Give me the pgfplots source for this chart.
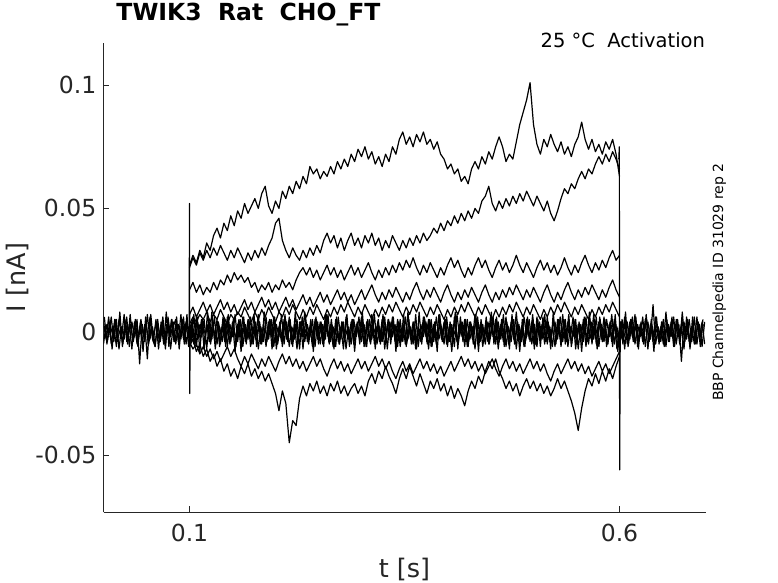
\documentclass[border=0pt]{standalone}
\usepackage{fontspec}
\setmainfont{DejaVu Sans}
\usepackage{pgfplots}
\pgfplotsset{compat=1.18}
\newcommand\tickfont{\fontsize{23.5bp}{28bp}\selectfont}
\newcommand\labfont{\fontsize{25.5bp}{30bp}\selectfont}
\newcommand\titfont{\fontsize{23.5bp}{28bp}\selectfont\bfseries}
\newcommand\notefont{\fontsize{19.5bp}{23bp}\selectfont}
\newcommand\sidefont{\fontsize{14bp}{17bp}\selectfont}
\begin{document}
\begin{tikzpicture}
\path[use as bounding box] (0,0) rectangle (778bp,583bp);
\begin{axis}[
  at={(103.5bp,70.7bp)}, anchor=south west,
  width=602bp, height=469.6bp, scale only axis,
  xmin=0, xmax=0.7, ymin=-0.0732, ymax=0.1172,
  axis lines=left,
  axis line style={-, black!85, line width=0.6bp},
  tick align=inside,
  major tick length=6bp,
  tick style={black!85, line width=0.6bp},
  xtick={0.1,0.6}, xticklabels={0.1,0.6},
  ytick={-0.05,0,0.05,0.1},
  yticklabels={{-0.05},{0\hspace{1.272em}},{0.05\hspace{0.318em}},{0.1\hspace{0.636em}}},
  xticklabel style={font=\tickfont, text=black!85, anchor=north, inner sep=0pt, yshift=-11.7bp},
  yticklabel style={font=\tickfont, text=black!85, anchor=east, inner sep=0pt, xshift=-7bp},
  xlabel={t [s]}, ylabel={I [nA]},
  xlabel style={font=\labfont, text=black!85, at={(axis description cs:0.5,-0.13778)}, anchor=base, inner sep=0pt},
  ylabel style={font=\labfont, text=black!85, at={(axis description cs:-0.12874,0.5)}, anchor=base, inner sep=0pt},
  title={TWIK3\ \ Rat\ \ CHO\_FT},
  title style={font=\titfont, text=black, at={(axis description cs:0.02126,1.03556)}, anchor=base west, inner sep=0pt},
  tr/.style={black, solid, line width=1.2bp, mark=none, line join=round},
  /pgf/number format/assume math mode=true,
]
% baseline noise sweeps (0 to 0.7 s)
\addplot[tr] table[x expr=0.003*\coordindex, y index=0, header=false, row sep=\\] {
0.004\\ -0.003\\ 0.006\\ -0.005\\ 0.002\\ -0.006\\ 0.005\\ -0.002\\ 0.007\\ -0.004\\
0.003\\ -0.007\\ 0.004\\ -0.005\\ 0.002\\ -0.004\\ 0.003\\ -0.011\\ 0.006\\ -0.003\\
-0.006\\ 0.003\\ -0.002\\ 0.006\\ -0.005\\ 0.004\\ -0.007\\ 0.002\\ 0.005\\ -0.004\\
0.007\\ -0.003\\ 0.004\\ -0.006\\ 0.002\\ -0.005\\ 0.006\\ -0.002\\ 0.005\\ -0.007\\
0.003\\ -0.004\\ 0.008\\ -0.003\\ 0.005\\ -0.006\\ 0.002\\ -0.004\\ 0.006\\ -0.005\\
0.004\\ -0.008\\ 0.003\\ -0.002\\ 0.006\\ -0.004\\ 0.005\\ -0.006\\ 0.002\\ -0.003\\
0.007\\ -0.005\\ 0.003\\ -0.006\\ 0.004\\ -0.002\\ 0.006\\ -0.007\\ 0.002\\ -0.004\\
0.005\\ -0.003\\ 0.006\\ -0.005\\ 0.003\\ -0.007\\ 0.004\\ -0.002\\ 0.008\\ -0.004\\
0.002\\ -0.006\\ 0.005\\ -0.003\\ 0.004\\ -0.005\\ 0.007\\ -0.002\\ 0.003\\ -0.006\\
0.005\\ -0.004\\ 0.002\\ -0.007\\ 0.006\\ -0.003\\ 0.004\\ -0.005\\ 0.003\\ -0.002\\
0.006\\ -0.006\\ 0.004\\ -0.003\\ 0.007\\ -0.005\\ 0.002\\ -0.004\\ 0.005\\ -0.007\\
0.003\\ -0.002\\ 0.006\\ -0.004\\ 0.005\\ -0.006\\ 0.003\\ -0.005\\ 0.008\\ -0.003\\
0.004\\ -0.007\\ 0.002\\ -0.004\\ 0.006\\ -0.002\\ 0.005\\ -0.006\\ 0.003\\ -0.005\\
0.007\\ -0.003\\ 0.004\\ -0.005\\ 0.002\\ -0.008\\ 0.006\\ -0.004\\ 0.003\\ -0.002\\
0.005\\ -0.006\\ 0.004\\ -0.003\\ 0.007\\ -0.005\\ 0.003\\ -0.006\\ 0.002\\ -0.004\\
0.006\\ -0.002\\ 0.005\\ -0.007\\ 0.003\\ -0.004\\ 0.006\\ -0.005\\ 0.004\\ -0.003\\
0.008\\ -0.004\\ 0.002\\ -0.006\\ 0.005\\ -0.003\\ 0.004\\ -0.007\\ 0.006\\ -0.002\\
0.003\\ -0.005\\ 0.006\\ -0.004\\ 0.002\\ -0.006\\ 0.005\\ -0.003\\ 0.007\\ -0.005\\
0.004\\ -0.002\\ 0.006\\ -0.007\\ 0.003\\ -0.004\\ 0.005\\ -0.006\\ 0.002\\ -0.003\\
0.007\\ -0.005\\ 0.004\\ -0.003\\ 0.006\\ -0.006\\ 0.003\\ -0.004\\ 0.005\\ -0.007\\
0.002\\ -0.003\\ 0.006\\ -0.005\\ 0.004\\ -0.002\\ 0.007\\ -0.006\\ 0.003\\ -0.004\\
0.005\\ -0.007\\ 0.003\\ -0.004\\ 0.006\\ -0.003\\ 0.002\\ -0.005\\ 0.008\\ -0.004\\
0.004\\ -0.006\\ 0.005\\ -0.002\\ 0.003\\ -0.007\\ 0.006\\ -0.004\\ 0.002\\ -0.005\\
0.006\\ -0.003\\ 0.004\\ -0.005\\
};
\addplot[tr] table[x expr=0.003*\coordindex, y index=0, header=false, row sep=\\] {
-0.005\\ 0.003\\ -0.002\\ 0.006\\ -0.004\\ 0.005\\ -0.007\\ 0.002\\ -0.003\\ 0.006\\
-0.006\\ 0.004\\ -0.002\\ 0.005\\ -0.013\\ 0.003\\ -0.004\\ 0.007\\ -0.003\\ 0.002\\
-0.006\\ 0.005\\ -0.004\\ 0.003\\ -0.007\\ 0.006\\ -0.002\\ 0.004\\ -0.005\\ 0.003\\
-0.003\\ 0.006\\ -0.005\\ 0.002\\ -0.004\\ 0.007\\ -0.006\\ 0.003\\ -0.002\\ 0.005\\
-0.007\\ 0.004\\ -0.003\\ 0.006\\ -0.005\\ 0.002\\ -0.004\\ 0.005\\ -0.006\\ 0.003\\
-0.002\\ 0.007\\ -0.004\\ 0.005\\ -0.006\\ 0.003\\ -0.003\\ 0.006\\ -0.005\\ 0.004\\
-0.007\\ 0.002\\ -0.004\\ 0.006\\ -0.003\\ 0.005\\ -0.006\\ 0.003\\ -0.002\\ 0.007\\
-0.005\\ 0.004\\ -0.006\\ 0.002\\ -0.003\\ 0.005\\ -0.007\\ 0.006\\ -0.004\\ 0.003\\
-0.002\\ 0.005\\ -0.006\\ 0.004\\ -0.005\\ 0.003\\ -0.003\\ 0.007\\ -0.004\\ 0.002\\
-0.006\\ 0.006\\ -0.003\\ 0.004\\ -0.007\\ 0.002\\ -0.005\\ 0.005\\ -0.002\\ 0.006\\
-0.004\\ 0.003\\ -0.006\\ 0.005\\ -0.003\\ 0.007\\ -0.005\\ 0.002\\ -0.004\\ 0.006\\
-0.007\\ 0.004\\ -0.002\\ 0.003\\ -0.006\\ 0.005\\ -0.004\\ 0.006\\ -0.003\\ 0.002\\
-0.005\\ 0.007\\ -0.006\\ 0.003\\ -0.002\\ 0.004\\ -0.007\\ 0.005\\ -0.004\\ 0.006\\
-0.003\\ 0.002\\ -0.005\\ 0.006\\ -0.004\\ 0.003\\ -0.006\\ 0.007\\ -0.002\\ 0.004\\
-0.006\\ 0.005\\ -0.003\\ 0.002\\ -0.007\\ 0.006\\ -0.004\\ 0.003\\ -0.005\\ 0.004\\
-0.002\\ 0.006\\ -0.005\\ 0.004\\ -0.003\\ 0.007\\ -0.006\\ 0.002\\ -0.004\\ 0.005\\
-0.007\\ 0.003\\ -0.004\\ 0.006\\ -0.002\\ 0.005\\ -0.005\\ 0.003\\ -0.006\\ 0.004\\
-0.003\\ 0.007\\ -0.005\\ 0.002\\ -0.006\\ 0.004\\ -0.003\\ 0.006\\ -0.004\\ 0.005\\
-0.006\\ 0.002\\ -0.002\\ 0.005\\ -0.007\\ 0.003\\ -0.004\\ 0.006\\ -0.005\\ 0.004\\
-0.003\\ 0.006\\ -0.006\\ 0.003\\ -0.004\\ 0.005\\ -0.002\\ 0.007\\ -0.005\\ 0.002\\
-0.004\\ 0.005\\ -0.007\\ 0.004\\ -0.003\\ 0.006\\ -0.005\\ 0.003\\ -0.002\\ 0.006\\
-0.006\\ 0.004\\ -0.003\\ 0.011\\ -0.005\\ 0.002\\ -0.004\\ 0.005\\ -0.006\\ 0.003\\
-0.002\\ 0.006\\ -0.005\\ 0.003\\ -0.012\\ 0.004\\ -0.003\\ 0.005\\ -0.004\\ 0.006\\
-0.005\\ 0.003\\ -0.006\\ 0.004\\
};
\addplot[tr] table[x expr=0.0015+0.003*\coordindex, y index=0, header=false, row sep=\\] {
0.002\\ -0.004\\ 0.003\\ -0.001\\ 0.005\\ -0.003\\ 0.001\\ -0.005\\ 0.004\\ -0.002\\
0.003\\ -0.004\\ 0.001\\ -0.003\\ 0.005\\ -0.002\\ 0.004\\ -0.005\\ 0.002\\ -0.001\\
0.004\\ -0.003\\ 0.002\\ -0.005\\ 0.003\\ -0.001\\ 0.005\\ -0.004\\ 0.001\\ -0.003\\
0.005\\ -0.002\\ 0.003\\ -0.004\\ 0.001\\ -0.005\\ 0.004\\ -0.003\\ 0.002\\ -0.001\\
0.003\\ -0.005\\ 0.002\\ -0.003\\ 0.004\\ -0.001\\ 0.005\\ -0.004\\ 0.003\\ -0.002\\
0.001\\ -0.003\\ 0.005\\ -0.004\\ 0.002\\ -0.002\\ 0.004\\ -0.005\\ 0.003\\ -0.001\\
0.004\\ -0.004\\ 0.001\\ -0.002\\ 0.005\\ -0.003\\ 0.003\\ -0.005\\ 0.002\\ -0.004\\
0.005\\ -0.001\\ 0.002\\ -0.004\\ 0.003\\ -0.003\\ 0.004\\ -0.002\\ 0.001\\ -0.005\\
0.003\\ -0.004\\ 0.005\\ -0.002\\ 0.002\\ -0.003\\ 0.004\\ -0.005\\ 0.003\\ -0.001\\
0.002\\ -0.005\\ 0.004\\ -0.003\\ 0.001\\ -0.004\\ 0.005\\ -0.002\\ 0.003\\ -0.003\\
0.004\\ -0.002\\ 0.003\\ -0.005\\ 0.002\\ -0.001\\ 0.005\\ -0.004\\ 0.001\\ -0.003\\
0.005\\ -0.003\\ 0.002\\ -0.004\\ 0.004\\ -0.002\\ 0.003\\ -0.005\\ 0.002\\ -0.001\\
0.003\\ -0.004\\ 0.001\\ -0.003\\ 0.005\\ -0.005\\ 0.004\\ -0.002\\ 0.002\\ -0.003\\
0.004\\ -0.001\\ 0.005\\ -0.004\\ 0.003\\ -0.002\\ 0.001\\ -0.005\\ 0.004\\ -0.003\\
0.002\\ -0.004\\ 0.003\\ -0.001\\ 0.005\\ -0.003\\ 0.002\\ -0.004\\ 0.003\\ -0.005\\
0.001\\ -0.002\\ 0.004\\ -0.003\\ 0.005\\ -0.004\\ 0.003\\ -0.001\\ 0.002\\ -0.005\\
0.004\\ -0.003\\ 0.002\\ -0.004\\ 0.001\\ -0.002\\ 0.005\\ -0.005\\ 0.003\\ -0.003\\
0.005\\ -0.004\\ 0.003\\ -0.002\\ 0.004\\ -0.001\\ 0.002\\ -0.003\\ 0.005\\ -0.004\\
0.002\\ -0.005\\ 0.004\\ -0.003\\ 0.003\\ -0.002\\ 0.001\\ -0.004\\ 0.005\\ -0.003\\
0.003\\ -0.002\\ 0.005\\ -0.004\\ 0.002\\ -0.005\\ 0.004\\ -0.001\\ 0.003\\ -0.003\\
0.004\\ -0.003\\ 0.001\\ -0.005\\ 0.005\\ -0.002\\ 0.003\\ -0.004\\ 0.002\\ -0.001\\
0.005\\ -0.004\\ 0.003\\ -0.002\\ 0.001\\ -0.003\\ 0.004\\ -0.005\\ 0.003\\ -0.002\\
0.002\\ -0.003\\ 0.005\\ -0.004\\ 0.004\\ -0.001\\ 0.002\\ -0.005\\ 0.003\\ -0.004\\
0.004\\ -0.002\\ 0.003\\
};
\addplot[tr] table[x expr=0.001+0.003*\coordindex, y index=0, header=false, row sep=\\] {
0.006\\ -0.005\\ 0.004\\ -0.007\\ 0.005\\ -0.004\\ 0.008\\ -0.006\\ 0.005\\ -0.005\\
0.007\\ -0.004\\ 0.005\\ -0.006\\ 0.004\\ -0.008\\ 0.006\\ -0.005\\ 0.007\\ -0.004\\
0.005\\ -0.007\\ 0.004\\ -0.005\\ 0.008\\ -0.006\\ 0.005\\ -0.004\\ 0.006\\ -0.007\\
0.004\\ -0.005\\ 0.007\\ -0.006\\ 0.005\\ -0.004\\ 0.006\\ -0.008\\ 0.005\\ -0.005\\
0.008\\ -0.004\\ 0.005\\ -0.007\\ 0.004\\ -0.005\\ 0.006\\ -0.006\\ 0.007\\ -0.004\\
0.005\\ -0.006\\ 0.004\\ -0.008\\ 0.006\\ -0.005\\ 0.005\\ -0.004\\ 0.007\\ -0.006\\
0.004\\ -0.005\\ 0.008\\ -0.004\\ 0.005\\ -0.007\\ 0.006\\ -0.005\\ 0.004\\ -0.006\\
0.007\\ -0.004\\ 0.005\\ -0.006\\ 0.008\\ -0.005\\ 0.004\\ -0.007\\ 0.006\\ -0.004\\
0.005\\ -0.008\\ 0.006\\ -0.005\\ 0.004\\ -0.006\\ 0.007\\ -0.004\\ 0.005\\ -0.007\\
0.006\\ -0.005\\ 0.004\\ -0.004\\ 0.007\\ -0.006\\ 0.005\\ -0.008\\ 0.004\\ -0.005\\
0.008\\ -0.006\\ 0.005\\ -0.004\\ 0.006\\ -0.007\\ 0.004\\ -0.005\\ 0.007\\ -0.004\\
0.005\\ -0.005\\ 0.006\\ -0.008\\ 0.004\\ -0.004\\ 0.007\\ -0.006\\ 0.005\\ -0.005\\
0.004\\ -0.007\\ 0.008\\ -0.005\\ 0.006\\ -0.004\\ 0.005\\ -0.006\\ 0.004\\ -0.008\\
0.007\\ -0.004\\ 0.005\\ -0.006\\ 0.004\\ -0.005\\ 0.008\\ -0.007\\ 0.006\\ -0.004\\
0.005\\ -0.006\\ 0.004\\ -0.005\\ 0.007\\ -0.008\\ 0.005\\ -0.004\\ 0.006\\ -0.005\\
0.008\\ -0.005\\ 0.006\\ -0.004\\ 0.005\\ -0.006\\ 0.004\\ -0.007\\ 0.007\\ -0.005\\
0.004\\ -0.008\\ 0.005\\ -0.006\\ 0.006\\ -0.004\\ 0.007\\ -0.005\\ 0.005\\ -0.006\\
0.006\\ -0.004\\ 0.004\\ -0.007\\ 0.008\\ -0.005\\ 0.005\\ -0.006\\ 0.004\\ -0.004\\
0.007\\ -0.006\\ 0.005\\ -0.005\\ 0.004\\ -0.008\\ 0.006\\ -0.004\\ 0.008\\ -0.005\\
0.005\\ -0.007\\ 0.006\\ -0.004\\ 0.005\\ -0.005\\ 0.004\\ -0.006\\ 0.007\\ -0.008\\
0.004\\ -0.005\\ 0.008\\ -0.006\\ 0.005\\ -0.004\\ 0.006\\ -0.007\\ 0.004\\ -0.005\\
0.007\\ -0.004\\ 0.005\\ -0.008\\ 0.006\\ -0.005\\ 0.004\\ -0.006\\ 0.005\\ -0.004\\
0.006\\ -0.006\\ 0.004\\ -0.005\\ 0.008\\ -0.004\\ 0.005\\ -0.007\\ 0.006\\ -0.005\\
0.004\\ -0.006\\ 0.005\\
};
% activated sweeps during the step (0.1 to 0.6 s)
\addplot[tr] table[x expr=0.1+0.004*\coordindex, y index=0, header=false, row sep=\\] {
0.027\\ 0.031\\ 0.028\\ 0.033\\ 0.030\\ 0.036\\ 0.033\\ 0.039\\ 0.042\\ 0.038\\
0.044\\ 0.041\\ 0.047\\ 0.043\\ 0.049\\ 0.046\\ 0.052\\ 0.048\\ 0.051\\ 0.054\\
0.050\\ 0.056\\ 0.059\\ 0.051\\ 0.048\\ 0.053\\ 0.050\\ 0.057\\ 0.054\\ 0.059\\
0.056\\ 0.061\\ 0.058\\ 0.063\\ 0.060\\ 0.067\\ 0.064\\ 0.066\\ 0.062\\ 0.065\\
0.063\\ 0.067\\ 0.064\\ 0.069\\ 0.066\\ 0.070\\ 0.067\\ 0.072\\ 0.069\\ 0.074\\
0.071\\ 0.075\\ 0.070\\ 0.073\\ 0.068\\ 0.071\\ 0.067\\ 0.072\\ 0.069\\ 0.075\\
0.072\\ 0.078\\ 0.081\\ 0.076\\ 0.079\\ 0.075\\ 0.080\\ 0.077\\ 0.081\\ 0.076\\
0.078\\ 0.074\\ 0.077\\ 0.072\\ 0.070\\ 0.066\\ 0.068\\ 0.064\\ 0.066\\ 0.061\\
0.063\\ 0.060\\ 0.066\\ 0.069\\ 0.066\\ 0.071\\ 0.068\\ 0.073\\ 0.070\\ 0.075\\
0.079\\ 0.075\\ 0.069\\ 0.072\\ 0.070\\ 0.077\\ 0.084\\ 0.089\\ 0.094\\ 0.101\\
0.084\\ 0.076\\ 0.072\\ 0.078\\ 0.075\\ 0.080\\ 0.076\\ 0.073\\ 0.077\\ 0.072\\
0.075\\ 0.071\\ 0.076\\ 0.079\\ 0.085\\ 0.078\\ 0.074\\ 0.078\\ 0.073\\ 0.076\\
0.072\\ 0.077\\ 0.074\\ 0.078\\ 0.072\\ 0.063\\
};
\addplot[tr] table[x expr=0.1+0.004*\coordindex, y index=0, header=false, row sep=\\] {
0.026\\ 0.030\\ 0.027\\ 0.032\\ 0.029\\ 0.033\\ 0.030\\ 0.034\\ 0.031\\ 0.035\\
0.032\\ 0.029\\ 0.033\\ 0.030\\ 0.034\\ 0.031\\ 0.028\\ 0.032\\ 0.029\\ 0.033\\
0.030\\ 0.034\\ 0.031\\ 0.035\\ 0.038\\ 0.044\\ 0.046\\ 0.037\\ 0.033\\ 0.030\\
0.034\\ 0.031\\ 0.029\\ 0.033\\ 0.030\\ 0.034\\ 0.031\\ 0.035\\ 0.032\\ 0.037\\
0.040\\ 0.036\\ 0.039\\ 0.034\\ 0.038\\ 0.033\\ 0.037\\ 0.040\\ 0.035\\ 0.038\\
0.034\\ 0.039\\ 0.036\\ 0.040\\ 0.035\\ 0.038\\ 0.033\\ 0.037\\ 0.034\\ 0.039\\
0.036\\ 0.033\\ 0.037\\ 0.034\\ 0.038\\ 0.035\\ 0.039\\ 0.036\\ 0.040\\ 0.037\\
0.039\\ 0.042\\ 0.040\\ 0.044\\ 0.041\\ 0.045\\ 0.043\\ 0.047\\ 0.044\\ 0.048\\
0.045\\ 0.049\\ 0.046\\ 0.050\\ 0.048\\ 0.053\\ 0.055\\ 0.059\\ 0.052\\ 0.049\\
0.053\\ 0.050\\ 0.054\\ 0.051\\ 0.055\\ 0.052\\ 0.056\\ 0.053\\ 0.057\\ 0.054\\
0.051\\ 0.055\\ 0.052\\ 0.049\\ 0.053\\ 0.048\\ 0.045\\ 0.049\\ 0.054\\ 0.058\\
0.056\\ 0.060\\ 0.058\\ 0.062\\ 0.065\\ 0.062\\ 0.066\\ 0.064\\ 0.068\\ 0.071\\
0.068\\ 0.072\\ 0.069\\ 0.073\\ 0.070\\ 0.066\\
};
\addplot[tr] table[x expr=0.1+0.004*\coordindex, y index=0, header=false, row sep=\\] {
0.017\\ 0.020\\ 0.016\\ 0.019\\ 0.015\\ 0.018\\ 0.016\\ 0.020\\ 0.017\\ 0.021\\
0.019\\ 0.023\\ 0.020\\ 0.024\\ 0.021\\ 0.023\\ 0.020\\ 0.022\\ 0.018\\ 0.020\\
0.016\\ 0.019\\ 0.017\\ 0.020\\ 0.016\\ 0.019\\ 0.017\\ 0.021\\ 0.018\\ 0.020\\
0.017\\ 0.021\\ 0.024\\ 0.026\\ 0.023\\ 0.026\\ 0.022\\ 0.025\\ 0.021\\ 0.024\\
0.027\\ 0.023\\ 0.026\\ 0.022\\ 0.025\\ 0.021\\ 0.024\\ 0.027\\ 0.023\\ 0.026\\
0.022\\ 0.025\\ 0.028\\ 0.024\\ 0.021\\ 0.025\\ 0.022\\ 0.026\\ 0.023\\ 0.027\\
0.024\\ 0.028\\ 0.025\\ 0.029\\ 0.026\\ 0.030\\ 0.026\\ 0.023\\ 0.027\\ 0.024\\
0.028\\ 0.025\\ 0.022\\ 0.026\\ 0.023\\ 0.027\\ 0.030\\ 0.026\\ 0.029\\ 0.025\\
0.022\\ 0.026\\ 0.023\\ 0.027\\ 0.030\\ 0.026\\ 0.029\\ 0.025\\ 0.022\\ 0.026\\
0.029\\ 0.025\\ 0.028\\ 0.024\\ 0.027\\ 0.031\\ 0.027\\ 0.024\\ 0.028\\ 0.025\\
0.022\\ 0.026\\ 0.029\\ 0.025\\ 0.028\\ 0.024\\ 0.027\\ 0.023\\ 0.026\\ 0.030\\
0.026\\ 0.023\\ 0.027\\ 0.024\\ 0.028\\ 0.031\\ 0.027\\ 0.024\\ 0.028\\ 0.025\\
0.029\\ 0.026\\ 0.030\\ 0.033\\ 0.029\\ 0.031\\
};
\addplot[tr] table[x expr=0.1+0.004*\coordindex, y index=0, header=false, row sep=\\] {
0.007\\ 0.010\\ 0.006\\ 0.009\\ 0.012\\ 0.008\\ 0.011\\ 0.007\\ 0.010\\ 0.013\\
0.009\\ 0.012\\ 0.008\\ 0.011\\ 0.007\\ 0.010\\ 0.013\\ 0.009\\ 0.012\\ 0.008\\
0.011\\ 0.014\\ 0.010\\ 0.013\\ 0.009\\ 0.012\\ 0.008\\ 0.011\\ 0.014\\ 0.010\\
0.013\\ 0.009\\ 0.012\\ 0.015\\ 0.011\\ 0.014\\ 0.010\\ 0.013\\ 0.016\\ 0.012\\
0.015\\ 0.011\\ 0.014\\ 0.017\\ 0.013\\ 0.016\\ 0.012\\ 0.015\\ 0.011\\ 0.014\\
0.017\\ 0.013\\ 0.016\\ 0.019\\ 0.015\\ 0.012\\ 0.016\\ 0.013\\ 0.017\\ 0.014\\
0.018\\ 0.015\\ 0.012\\ 0.016\\ 0.013\\ 0.017\\ 0.020\\ 0.016\\ 0.013\\ 0.017\\
0.014\\ 0.018\\ 0.015\\ 0.012\\ 0.016\\ 0.019\\ 0.015\\ 0.012\\ 0.016\\ 0.013\\
0.017\\ 0.014\\ 0.018\\ 0.015\\ 0.012\\ 0.016\\ 0.019\\ 0.015\\ 0.012\\ 0.016\\
0.013\\ 0.017\\ 0.014\\ 0.018\\ 0.015\\ 0.019\\ 0.016\\ 0.013\\ 0.017\\ 0.014\\
0.018\\ 0.015\\ 0.012\\ 0.016\\ 0.019\\ 0.015\\ 0.012\\ 0.016\\ 0.013\\ 0.017\\
0.020\\ 0.016\\ 0.013\\ 0.017\\ 0.014\\ 0.018\\ 0.015\\ 0.019\\ 0.016\\ 0.013\\
0.017\\ 0.014\\ 0.018\\ 0.021\\ 0.017\\ 0.014\\
};
\addplot[tr] table[x expr=0.1+0.004*\coordindex, y index=0, header=false, row sep=\\] {
0.003\\ 0.006\\ 0.004\\ 0.007\\ 0.005\\ 0.008\\ 0.004\\ 0.007\\ 0.005\\ 0.009\\
0.006\\ 0.003\\ 0.007\\ 0.005\\ 0.008\\ 0.006\\ 0.010\\ 0.007\\ 0.004\\ 0.008\\
0.005\\ 0.009\\ 0.006\\ 0.010\\ 0.007\\ 0.004\\ 0.008\\ 0.006\\ 0.010\\ 0.007\\
0.011\\ 0.008\\ 0.005\\ 0.009\\ 0.006\\ 0.010\\ 0.007\\ 0.011\\ 0.008\\ 0.005\\
0.009\\ 0.006\\ 0.010\\ 0.007\\ 0.011\\ 0.008\\ 0.012\\ 0.009\\ 0.006\\ 0.010\\
0.007\\ 0.011\\ 0.008\\ 0.005\\ 0.009\\ 0.006\\ 0.010\\ 0.007\\ 0.011\\ 0.008\\
0.012\\ 0.009\\ 0.006\\ 0.010\\ 0.007\\ 0.011\\ 0.008\\ 0.012\\ 0.009\\ 0.006\\
0.010\\ 0.007\\ 0.011\\ 0.008\\ 0.005\\ 0.009\\ 0.006\\ 0.010\\ 0.007\\ 0.011\\
0.008\\ 0.012\\ 0.009\\ 0.006\\ 0.010\\ 0.007\\ 0.011\\ 0.008\\ 0.005\\ 0.009\\
0.006\\ 0.010\\ 0.007\\ 0.011\\ 0.008\\ 0.012\\ 0.009\\ 0.006\\ 0.010\\ 0.007\\
0.011\\ 0.008\\ 0.005\\ 0.009\\ 0.006\\ 0.010\\ 0.007\\ 0.011\\ 0.008\\ 0.012\\
0.009\\ 0.006\\ 0.010\\ 0.007\\ 0.011\\ 0.008\\ 0.005\\ 0.009\\ 0.006\\ 0.010\\
0.007\\ 0.011\\ 0.008\\ 0.012\\ 0.009\\ 0.006\\
};
\addplot[tr] table[x expr=0.1+0.004*\coordindex, y index=0, header=false, row sep=\\] {
-0.006\\ -0.003\\ -0.008\\ -0.005\\ -0.010\\ -0.007\\ -0.012\\ -0.009\\ -0.014\\ -0.011\\
-0.016\\ -0.013\\ -0.018\\ -0.015\\ -0.019\\ -0.014\\ -0.017\\ -0.013\\ -0.018\\ -0.015\\
-0.019\\ -0.016\\ -0.020\\ -0.017\\ -0.021\\ -0.025\\ -0.032\\ -0.024\\ -0.029\\ -0.045\\
-0.036\\ -0.038\\ -0.027\\ -0.022\\ -0.026\\ -0.021\\ -0.024\\ -0.020\\ -0.025\\ -0.022\\
-0.026\\ -0.021\\ -0.024\\ -0.020\\ -0.025\\ -0.022\\ -0.026\\ -0.023\\ -0.021\\ -0.025\\
-0.022\\ -0.026\\ -0.020\\ -0.017\\ -0.021\\ -0.016\\ -0.019\\ -0.014\\ -0.018\\ -0.021\\
-0.025\\ -0.019\\ -0.015\\ -0.019\\ -0.014\\ -0.018\\ -0.022\\ -0.017\\ -0.021\\ -0.025\\
-0.020\\ -0.023\\ -0.019\\ -0.024\\ -0.021\\ -0.026\\ -0.022\\ -0.027\\ -0.023\\ -0.026\\
-0.030\\ -0.024\\ -0.020\\ -0.023\\ -0.018\\ -0.021\\ -0.016\\ -0.012\\ -0.015\\ -0.011\\
-0.016\\ -0.019\\ -0.023\\ -0.020\\ -0.024\\ -0.021\\ -0.026\\ -0.022\\ -0.019\\ -0.023\\
-0.020\\ -0.024\\ -0.021\\ -0.025\\ -0.022\\ -0.026\\ -0.023\\ -0.019\\ -0.023\\ -0.020\\
-0.024\\ -0.028\\ -0.033\\ -0.040\\ -0.031\\ -0.024\\ -0.019\\ -0.022\\ -0.017\\ -0.021\\
-0.016\\ -0.020\\ -0.015\\ -0.019\\ -0.014\\ -0.010\\
};
\addplot[tr] table[x expr=0.1+0.004*\coordindex, y index=0, header=false, row sep=\\] {
-0.004\\ -0.007\\ -0.005\\ -0.009\\ -0.006\\ -0.010\\ -0.007\\ -0.011\\ -0.008\\ -0.012\\
-0.009\\ -0.006\\ -0.010\\ -0.007\\ -0.011\\ -0.014\\ -0.010\\ -0.013\\ -0.009\\ -0.012\\
-0.015\\ -0.011\\ -0.014\\ -0.010\\ -0.013\\ -0.016\\ -0.012\\ -0.009\\ -0.013\\ -0.010\\
-0.014\\ -0.011\\ -0.015\\ -0.012\\ -0.016\\ -0.013\\ -0.010\\ -0.014\\ -0.011\\ -0.015\\
-0.018\\ -0.014\\ -0.011\\ -0.015\\ -0.012\\ -0.016\\ -0.013\\ -0.017\\ -0.014\\ -0.011\\
-0.015\\ -0.012\\ -0.016\\ -0.013\\ -0.010\\ -0.014\\ -0.011\\ -0.015\\ -0.012\\ -0.016\\
-0.019\\ -0.015\\ -0.012\\ -0.016\\ -0.013\\ -0.017\\ -0.014\\ -0.011\\ -0.015\\ -0.012\\
-0.016\\ -0.013\\ -0.017\\ -0.014\\ -0.018\\ -0.015\\ -0.012\\ -0.016\\ -0.013\\ -0.010\\
-0.014\\ -0.011\\ -0.015\\ -0.012\\ -0.016\\ -0.013\\ -0.017\\ -0.014\\ -0.011\\ -0.015\\
-0.018\\ -0.014\\ -0.011\\ -0.015\\ -0.012\\ -0.016\\ -0.013\\ -0.017\\ -0.014\\ -0.011\\
-0.015\\ -0.012\\ -0.016\\ -0.013\\ -0.017\\ -0.020\\ -0.016\\ -0.013\\ -0.017\\ -0.014\\
-0.011\\ -0.015\\ -0.012\\ -0.016\\ -0.013\\ -0.017\\ -0.014\\ -0.018\\ -0.015\\ -0.012\\
-0.016\\ -0.013\\ -0.017\\ -0.014\\ -0.011\\ -0.008\\
};
% capacitive transients at step on and off
\addplot[tr] coordinates {(0.0996,0.002) (0.1,0.052) (0.1003,-0.025) (0.1008,0.003)};
\addplot[tr] coordinates {(0.5992,0.070) (0.5998,0.075) (0.6002,-0.056) (0.6008,-0.004) (0.6016,0.003)};
\end{axis}
\node[font=\notefont, anchor=base east, inner sep=0pt] at (705.2bp,535.3bp) {25 °C\ \ Activation};
\node[font=\sidefont, rotate=90, anchor=base, inner sep=0pt] at (723bp,300.8bp) {BBP Channelpedia ID 31029 rep 2};
\end{tikzpicture}
\end{document}
